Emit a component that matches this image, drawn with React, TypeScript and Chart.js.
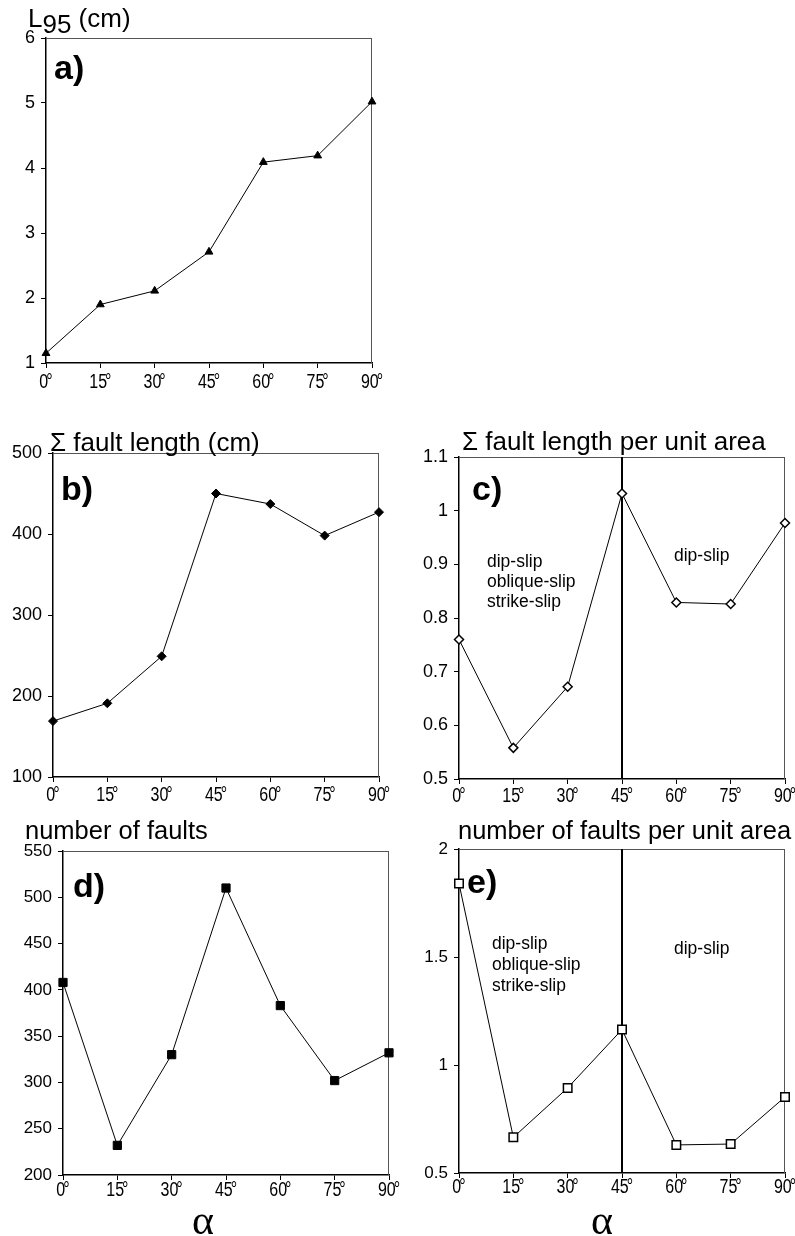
import React, { useEffect, useRef } from "react";
import { Chart, registerables } from "chart.js";

Chart.register(...registerables);

// ---------- data ----------
const angles = [0, 15, 30, 45, 60, 75, 90];
const l95Values = [1.15, 1.9, 2.11, 2.71, 4.09, 4.19, 5.02];
const faultLengthValues = [169, 191, 249, 450, 437, 398, 427];
const faultLengthPerAreaValues = [0.76, 0.558, 0.672, 1.032, 0.829, 0.826, 0.977];
const faultCountValues = [408, 232, 330, 510, 383, 302, 332];
const faultCountPerAreaValues = [1.84, 0.665, 0.894, 1.164, 0.63, 0.634, 0.852];
const dividerAngle = 45;
const degreeSign = "°";

const titleA = { main: "L", sub: "95", rest: " (cm)" };
const titleB = "Σ fault length (cm)";
const titleC = "Σ fault length per unit area";
const titleD = "number of faults";
const titleE = "number of faults per unit area";
const regimeLeft = ["dip-slip", "oblique-slip", "strike-slip"];
const regimeRight = "dip-slip";
const xAxisLabel = "α";

const SANS = "'Liberation Sans', Arial, sans-serif";
const SERIF = "'Liberation Serif', 'Times New Roman', serif";
const X_SCALE = 0.8;
const X_FONT = 20;

const framePlugin = {
  id: "frame",
  beforeDatasetsDraw(chart: any, _args: any, opts: any) {
    const { ctx, chartArea: a, scales } = chart;
    ctx.save();
    ctx.strokeStyle = "#555";
    ctx.lineWidth = 1;
    ctx.beginPath();
    ctx.moveTo(a.left, a.top + 0.5);
    ctx.lineTo(a.right, a.top + 0.5);
    ctx.moveTo(a.right - 0.5, a.top);
    ctx.lineTo(a.right - 0.5, a.bottom);
    ctx.stroke();
    if (opts && opts.divider != null) {
      const x = scales.x.getPixelForValue(opts.divider);
      ctx.strokeStyle = "#000";
      ctx.lineWidth = 2;
      ctx.beginPath();
      ctx.moveTo(x, a.top);
      ctx.lineTo(x, a.bottom);
      ctx.stroke();
    }
    ctx.restore();
  },
  afterDraw(chart: any, _args: any, opts: any) {
    // condensed degree tick labels, positioned through the x scale
    const { ctx, scales } = chart;
    const s = scales.x;
    const y = s.top + (opts?.labelGap ?? 12) + 14;
    ctx.save();
    ctx.fillStyle = "#000";
    ctx.font = `${X_FONT}px ${SANS}`;
    ctx.textBaseline = "alphabetic";
    ctx.textAlign = "left";
    for (const t of s.ticks) {
      const px = s.getPixelForValue(t.value);
      const num = String(t.value);
      const nw = ctx.measureText(num).width * X_SCALE;
      const dw = ctx.measureText(degreeSign).width * X_SCALE;
      const total = nw + dw - 2;
      const x0 = px - total / 2;
      ctx.save();
      ctx.translate(x0, y);
      ctx.scale(X_SCALE, 1);
      ctx.fillText(num, 0, 0);
      ctx.restore();
      ctx.save();
      ctx.translate(x0 + nw - 2, y);
      ctx.scale(X_SCALE, 1);
      ctx.fillText(degreeSign, 0, 0);
      ctx.restore();
    }
    ctx.restore();
  },
};

type Box = { x: number; y: number; w: number; h: number };
type Area = { l: number; t: number; r: number; b: number };

function Panel(props: {
  box: Box;
  area: Area;
  values: number[];
  yMin: number;
  yMax: number;
  yStep: number;
  yFont: number;
  pointStyle: string;
  pointRadius: number;
  pointFill: string;
  pointBorder: number;
  labelGap: number;
  divider?: number;
}) {
  const ref = useRef<HTMLCanvasElement>(null);
  const { box, area } = props;
  useEffect(() => {
    const yW = area.l - box.x;
    const xH = box.y + box.h - area.b;
    const chart = new Chart(ref.current!, {
      type: "line",
      data: {
        datasets: [
          {
            data: angles.map((a, i) => ({ x: a, y: props.values[i] })),
            borderColor: "#000",
            borderWidth: 1,
            tension: 0,
            clip: false as any,
            pointStyle: props.pointStyle as any,
            pointRadius: props.pointRadius,
            pointBackgroundColor: props.pointFill,
            pointBorderColor: "#000",
            pointBorderWidth: props.pointBorder,
          },
        ],
      },
      options: {
        responsive: false,
        maintainAspectRatio: false,
        animation: false,
        layout: {
          padding: { top: area.t - box.y, right: box.x + box.w - area.r, left: 0, bottom: 0 },
        },
        plugins: {
          legend: { display: false },
          tooltip: { enabled: false },
          frame: { divider: props.divider, labelGap: props.labelGap },
        } as any,
        scales: {
          x: {
            type: "linear",
            min: 0,
            max: 90,
            ticks: {
              stepSize: 15,
              autoSkip: false,
              maxRotation: 0,
              display: false,
            },
            grid: { drawOnChartArea: false, tickLength: 5, tickColor: "#000", color: "#000" },
            border: { color: "#000", width: 1.5 },
            afterFit: (s: any) => {
              s.height = xH;
              s.paddingLeft = 0;
              s.paddingRight = 0;
            },
          },
          y: {
            type: "linear",
            min: props.yMin,
            max: props.yMax,
            ticks: {
              stepSize: props.yStep,
              color: "#000",
              padding: 6,
              font: { family: SANS, size: props.yFont },
              callback: (v: any) => String(Math.round(Number(v) * 100) / 100),
            },
            grid: { drawOnChartArea: false, tickLength: 5, tickColor: "#000", color: "#000" },
            border: { color: "#000", width: 1.5 },
            afterFit: (s: any) => {
              s.width = yW;
              s.paddingTop = 0;
              s.paddingBottom = 0;
            },
          },
        },
      },
      plugins: [framePlugin as any],
    });
    return () => chart.destroy();
  }, []);
  return (
    <canvas
      ref={ref}
      width={box.w}
      height={box.h}
      style={{ position: "absolute", left: box.x, top: box.y, width: box.w, height: box.h }}
    />
  );
}

function Txt(props: {
  x: number;
  base: number;
  size: number;
  bold?: boolean;
  family?: string;
  center?: boolean;
  children: React.ReactNode;
}) {
  const f = props.size;
  return (
    <div
      style={{
        position: "absolute",
        left: props.x,
        top: props.base - 0.845 * f,
        fontSize: f,
        lineHeight: `${f}px`,
        fontFamily: props.family || SANS,
        fontWeight: props.bold ? "bold" : "normal",
        whiteSpace: "nowrap",
        color: "#000",
        transform: props.center ? "translateX(-50%)" : undefined,
      }}
    >
      {props.children}
    </div>
  );
}

export default function App() {
  return (
    <div
      style={{
        position: "absolute",
        left: 0,
        top: 0,
        width: 795,
        height: 1236,
        background: "#fff",
        overflow: "hidden",
      }}
    >
      {/* a */}
      <Panel
        box={{ x: 0, y: 28, w: 395, h: 370 }}
        area={{ l: 46, t: 38, r: 372, b: 363 }}
        values={l95Values}
        yMin={1}
        yMax={6}
        yStep={1}
        yFont={18}
        pointStyle="triangle"
        pointRadius={4.5}
        pointFill="#000"
        pointBorder={1}
        labelGap={11}
      />
      {/* b */}
      <Panel
        box={{ x: 0, y: 443, w: 395, h: 365 }}
        area={{ l: 53, t: 453, r: 379, b: 777 }}
        values={faultLengthValues}
        yMin={100}
        yMax={500}
        yStep={100}
        yFont={18}
        pointStyle="rectRot"
        pointRadius={4.5}
        pointFill="#000"
        pointBorder={1}
        labelGap={10}
      />
      {/* c */}
      <Panel
        box={{ x: 400, y: 447, w: 395, h: 361 }}
        area={{ l: 459, t: 457, r: 785, b: 779 }}
        values={faultLengthPerAreaValues}
        yMin={0.5}
        yMax={1.1}
        yStep={0.1}
        yFont={18}
        pointStyle="rectRot"
        pointRadius={4.5}
        pointFill="#fff"
        pointBorder={1.5}
        labelGap={9}
        divider={dividerAngle}
      />
      {/* d */}
      <Panel
        box={{ x: 0, y: 841, w: 400, h: 365 }}
        area={{ l: 63, t: 851, r: 389, b: 1175 }}
        values={faultCountValues}
        yMin={200}
        yMax={550}
        yStep={50}
        yFont={17}
        pointStyle="rect"
        pointRadius={5.8}
        pointFill="#000"
        pointBorder={1}
        labelGap={7}
      />
      {/* e */}
      <Panel
        box={{ x: 400, y: 839, w: 395, h: 367 }}
        area={{ l: 459, t: 849, r: 785, b: 1173 }}
        values={faultCountPerAreaValues}
        yMin={0.5}
        yMax={2}
        yStep={0.5}
        yFont={17}
        pointStyle="rect"
        pointRadius={6}
        pointFill="#fff"
        pointBorder={1.5}
        labelGap={6}
        divider={dividerAngle}
      />

      {/* titles */}
      <Txt x={28} base={27} size={26}>
        {titleA.main}
        <span style={{ position: "relative", top: 6 }}>{titleA.sub}</span>
        {titleA.rest}
      </Txt>
      <Txt x={50} base={451} size={26}>{titleB}</Txt>
      <Txt x={462} base={450} size={26}>{titleC}</Txt>
      <Txt x={25} base={840} size={25.5}>{titleD}</Txt>
      <Txt x={458} base={840} size={25.5}>{titleE}</Txt>

      {/* panel letters */}
      <Txt x={54} base={79} size={34} bold>a)</Txt>
      <Txt x={61} base={500} size={34} bold>b)</Txt>
      <Txt x={472} base={500} size={34} bold>c)</Txt>
      <Txt x={73} base={897} size={34} bold>d)</Txt>
      <Txt x={467} base={893} size={34} bold>e)</Txt>

      {/* regime annotations c */}
      {regimeLeft.map((s, i) => (
        <Txt key={"c" + i} x={487} base={568 + i * 20} size={17.5}>{s}</Txt>
      ))}
      <Txt x={674} base={562} size={17.5}>{regimeRight}</Txt>
      {/* regime annotations e */}
      {regimeLeft.map((s, i) => (
        <Txt key={"e" + i} x={492} base={950 + i * 21} size={17.5}>{s}</Txt>
      ))}
      <Txt x={674} base={955} size={17.5}>{regimeRight}</Txt>

      {/* alpha */}
      <Txt x={203} base={1234} size={42} family={SERIF} center>{xAxisLabel}</Txt>
      <Txt x={602} base={1234} size={42} family={SERIF} center>{xAxisLabel}</Txt>
    </div>
  );
}
